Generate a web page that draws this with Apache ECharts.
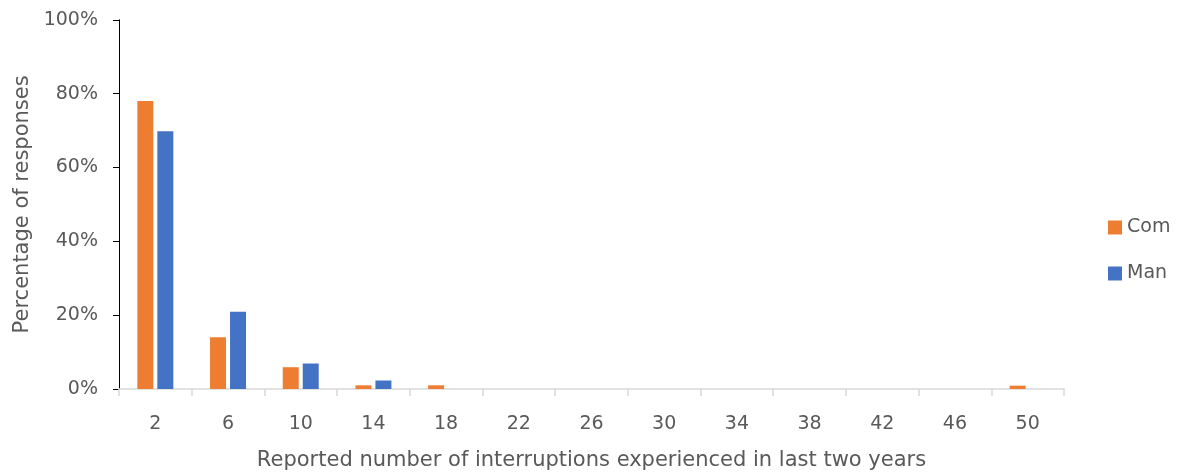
<!DOCTYPE html>
<html><head><meta charset="utf-8">
<script src="https://cdn.jsdelivr.net/npm/echarts@6/dist/echarts.min.js"></script>
<style>html,body{margin:0;padding:0;background:#fff}#c{width:1179px;height:476px}</style>
</head><body><div id="c"></div>
<script>
const categories = ['2','6','10','14','18','22','26','30','34','38','42','46','50'];
const comValues = [78, 14, 5.9, 1, 1, 0, 0, 0, 0, 0, 0, 0, 0.9];
const manValues = [69.8, 20.9, 6.9, 2.3, 0, 0, 0, 0, 0, 0, 0, 0, 0];
const yTicks = [0, 20, 40, 60, 80, 100];
const font = 'DejaVu Sans';
const chart = echarts.init(document.getElementById('c'));
chart.setOption({
  animation: false,
  textStyle: {fontFamily: font},
  grid: {left: 119, right: 115, top: 19.75, bottom: 85},
  legend: {
    orient: 'vertical', left: 1103, top: 213, itemWidth: 14, itemHeight: 14, itemGap: 27,
    icon: 'rect',
    textStyle: {fontFamily: font, fontSize: 19, color: '#595959'},
    data: ['Com', 'Man']
  },
  xAxis: {
    type: 'category', data: categories,
    name: 'Reported number of interruptions experienced in last two years',
    nameLocation: 'middle', nameGap: 61,
    nameTextStyle: {fontFamily: font, fontSize: 21, color: '#595959'},
    axisLine: {lineStyle: {color: '#d9d9d9', width: 1.5}},
    axisTick: {show: true, length: 7, lineStyle: {color: '#d9d9d9', width: 1.5}},
    axisLabel: {fontFamily: font, fontSize: 19, color: '#595959', margin: 26}
  },
  yAxis: {
    type: 'value', min: 0, max: 100, interval: 20,
    name: 'Percentage of responses', nameLocation: 'middle', nameGap: 86,
    nameTextStyle: {fontFamily: font, fontSize: 21, color: '#595959'},
    axisLine: {show: true, lineStyle: {color: '#000', width: 1}},
    axisTick: {show: true, length: 6, lineStyle: {color: '#000'}},
    splitLine: {show: false},
    axisLabel: {fontFamily: font, fontSize: 19, color: '#595959', margin: 21,
      formatter: v => yTicks.includes(v) ? v + '%' : ''}
  },
  series: [
    {name: 'Com', type: 'bar', data: comValues, barWidth: '22%', barGap: '25%',
     itemStyle: {color: '#ED7D31'}},
    {name: 'Man', type: 'bar', data: manValues, barWidth: '22%', barGap: '25%',
     itemStyle: {color: '#4472C4'}}
  ]
});
</script></body></html>
